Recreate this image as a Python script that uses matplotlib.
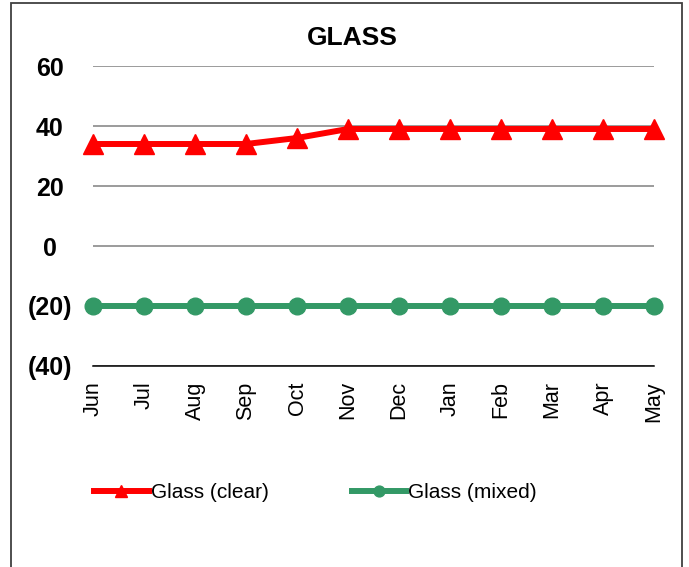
import matplotlib
matplotlib.use("Agg")
import matplotlib.pyplot as plt
from matplotlib.patches import Rectangle
from matplotlib.ticker import FuncFormatter

plt.rcParams['font.family'] = ['Liberation Sans', 'DejaVu Sans']

# data
months = ["Jun", "Jul", "Aug", "Sep", "Oct", "Nov", "Dec", "Jan", "Feb", "Mar", "Apr", "May"]
glass_clear = [34, 34, 34, 34, 36, 39, 39, 39, 39, 39, 39, 39]
glass_mixed = [-20, -20, -20, -20, -20, -20, -20, -20, -20, -20, -20, -20]
y_ticks = [-40, -20, 0, 20, 40, 60]

fig = plt.figure(figsize=(6.89, 5.67), dpi=100)
ax = fig.add_axes([93 / 689, 1 - 366 / 567, (654 - 93) / 689, 300 / 567])

x = list(range(len(months)))
ax.plot(x, glass_clear, color="#FF0000", lw=4.3, marker="^", markersize=14,
        label="Glass (clear)", clip_on=False, zorder=3)
ax.plot(x, glass_mixed, color="#339966", lw=4.3, marker="o", markersize=12,
        label="Glass (mixed)", clip_on=False, zorder=3)

ax.set_xlim(0, len(months) - 1)
ax.set_ylim(-40, 60)
ax.set_yticks(y_ticks)
ax.yaxis.set_major_formatter(FuncFormatter(lambda v, p: f"({abs(int(v))})" if v < 0 else f"{int(v)}"))
ax.grid(axis="y", color="#808080", lw=1.1)
ax.set_axisbelow(True)

for s in ["top", "right", "left"]:
    ax.spines[s].set_visible(False)
ax.spines["bottom"].set_color("black")
ax.spines["bottom"].set_linewidth(1.1)

ax.set_xticks(x)
ax.set_xticklabels(months, rotation=90, fontsize=15.5, ha="center", va="top")
ax.tick_params(axis="x", length=0, pad=11)
ax.tick_params(axis="y", length=0, pad=31, labelsize=18)
for lab in ax.get_yticklabels():
    lab.set_fontweight("bold")
    lab.set_ha("center")

fig.text(352 / 689, 1 - 38 / 567, "GLASS", fontsize=19, fontweight="bold",
         ha="center", va="center")

fig.legend(loc="center left", bbox_to_anchor=(86 / 689, 1 - 493 / 567), ncol=2,
           frameon=False, fontsize=15, handlelength=2.6, handletextpad=0.1,
           columnspacing=4.0, borderaxespad=0, markerscale=0.65)

# chart border
fig.patches.append(Rectangle((11 / 689, -0.05), (682 - 11) / 689, 1.05 - 3 / 567,
                             transform=fig.transFigure, fill=False,
                             edgecolor="#404040", lw=1.3))

fig.savefig("out.png", dpi=100)
